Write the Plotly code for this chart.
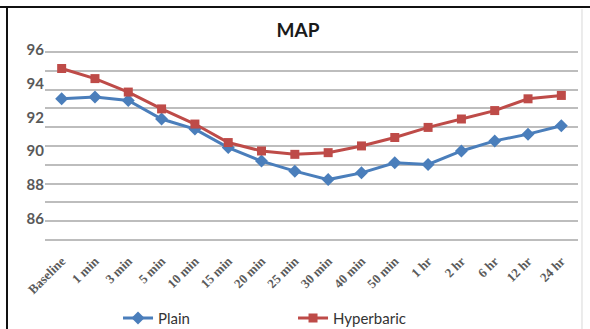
import plotly.graph_objects as go

categories = ["Baseline", "1 min", "3 min", "5 min", "10 min", "15 min", "20 min", "25 min",
              "30 min", "40 min", "50 min", "1 hr", "2 hr", "6 hr", "12 hr", "24 hr"]
plain = [93.1, 93.2, 93.0, 91.9, 91.3, 90.2, 89.4, 88.8, 88.3, 88.7, 89.3, 89.2, 90.0, 90.6, 91.0, 91.5]
hyperbaric = [94.9, 94.3, 93.5, 92.5, 91.6, 90.5, 90.0, 89.8, 89.9, 90.3, 90.8, 91.4, 91.9, 92.4, 93.1, 93.3]
y_ticks = [86, 88, 90, 92, 94, 96]
grid_ticks = list(range(0, 11))

BLUE = "#4a7ebb"
RED = "#be4b48"

fig = go.Figure()
fig.add_trace(go.Scatter(x=categories, y=plain, name="Plain", mode="lines+markers",
                         line=dict(color=BLUE, width=3),
                         marker=dict(symbol="diamond", size=10, color=BLUE)))
fig.add_trace(go.Scatter(x=categories, y=hyperbaric, name="Hyperbaric", mode="lines+markers",
                         line=dict(color=RED, width=3),
                         marker=dict(symbol="square", size=9, color=RED)))
# invisible helper so the gridline axis is drawn
fig.add_trace(go.Scatter(x=[], y=[], yaxis="y2", showlegend=False, hoverinfo="skip"))

fig.update_layout(
    width=590, height=329,
    margin=dict(l=45, r=12, t=45, b=79, autoexpand=False),
    paper_bgcolor="white", plot_bgcolor="white",
    title=dict(text="<b>MAP</b>", x=0.505, xanchor="center", y=0.909, yanchor="middle",
               font=dict(family="Lato, Open Sans, sans-serif", size=19, color="#1a1a1a")),
    xaxis=dict(type="category", range=[-0.5, 15.5], tickangle=-45, showgrid=False,
               showline=False, ticks="", zeroline=False, automargin=False,
               tickfont=dict(family="Liberation Serif, serif", size=13, color="#5a5a5a", weight="bold")),
    yaxis=dict(range=[84.116, 96.297], tickvals=y_ticks, showgrid=False, zeroline=False,
               showline=False, ticks="", automargin=False,
               tickfont=dict(family="Lato, Open Sans, sans-serif", size=15, color="#595959", weight="bold")),
    yaxis2=dict(overlaying="y", range=[-0.532, 10.372], tickvals=grid_ticks, showticklabels=False,
                showgrid=True, gridcolor="#bdbdbd", gridwidth=1.5, zeroline=False, showline=False,
                ticks="", automargin=False),
    legend=dict(orientation="h", x=0.137, xanchor="left", y=-0.253, yanchor="top",
                entrywidth=130, font=dict(family="Lato, Open Sans, sans-serif", size=15, color="#333333"),
                bgcolor="rgba(0,0,0,0)"),
    showlegend=True,
    shapes=[
        dict(type="line", xref="paper", yref="paper", x0=-0.0844, x1=1.0225, y0=1.185, y1=1.185,
             line=dict(color="#111111", width=2)),
        dict(type="line", xref="paper", yref="paper", x0=-0.0713, x1=-0.0713, y0=1.185, y1=-0.39,
             line=dict(color="#111111", width=2)),
        dict(type="line", xref="paper", yref="paper", x0=1.0075, x1=1.0075, y0=1.175, y1=-0.39,
             line=dict(color="#d9d9d9", width=1)),
    ],
)

fig.write_html("out.html", config={"displayModeBar": False},
               post_script="document.body.style.margin='0px';")
